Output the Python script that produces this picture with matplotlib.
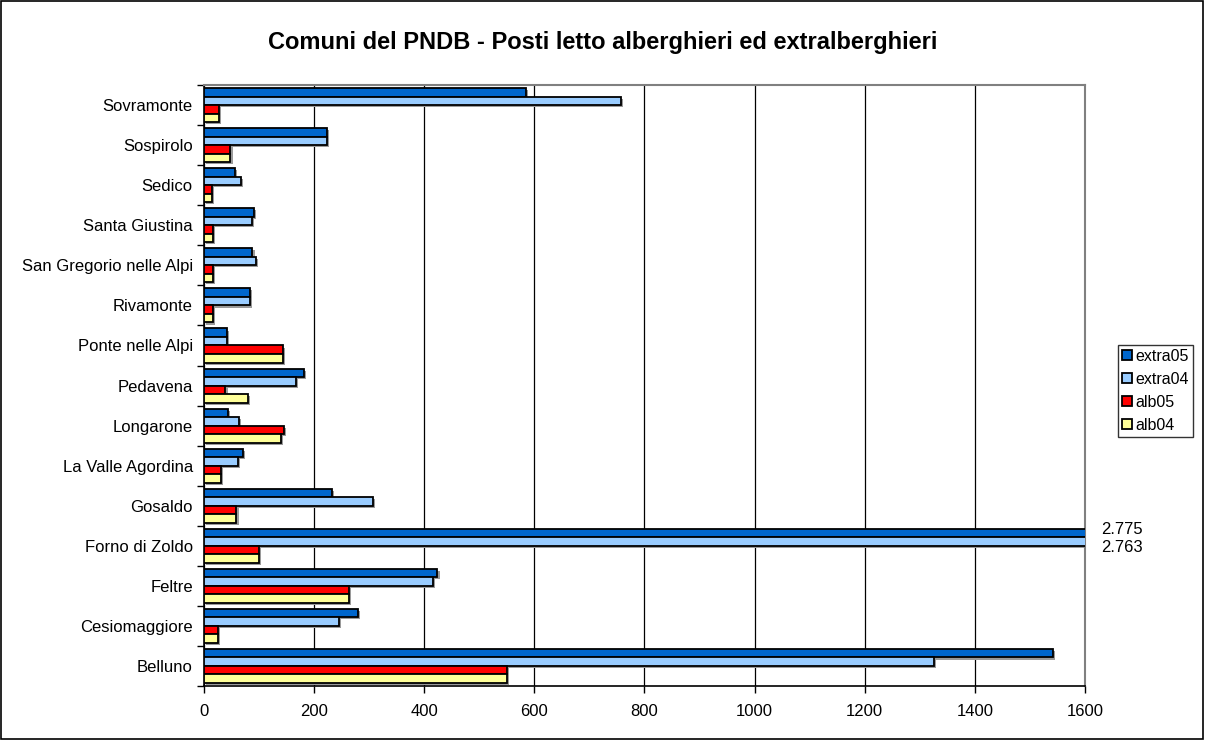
import numpy as np
import matplotlib.pyplot as plt
import matplotlib.patches as ptc
import matplotlib.transforms as mtransforms

plt.rcParams['font.family'] = ['Liberation Sans', 'DejaVu Sans']

# categories listed bottom -> top as drawn
comuni = ['Belluno', 'Cesiomaggiore', 'Feltre', 'Forno di Zoldo', 'Gosaldo',
          'La Valle Agordina', 'Longarone', 'Pedavena', 'Ponte nelle Alpi',
          'Rivamonte', 'San Gregorio nelle Alpi', 'Santa Giustina', 'Sedico',
          'Sospirolo', 'Sovramonte']
extra05 = [1542, 279, 424, 2775, 232, 70, 43, 181, 41, 83, 88, 90, 57, 223, 584]
extra04 = [1326, 245, 415, 2763, 307, 61, 64, 167, 41, 83, 95, 87, 67, 223, 757]
alb05 = [550, 25, 263, 99, 59, 30, 146, 39, 144, 16, 17, 17, 14, 48, 27]
alb04 = [550, 25, 263, 99, 59, 30, 140, 79, 144, 16, 17, 17, 14, 48, 27]
series = [('extra05', extra05, '#0066CC'), ('extra04', extra04, '#99CCFF'),
          ('alb05', alb05, '#FF0000'), ('alb04', alb04, '#FFFF99')]
clipped = ['2.775', '2.763']

fig = plt.figure(figsize=(12.05, 7.4), dpi=100)
ax = fig.add_axes([0.1693, 0.073, 0.7311, 0.812])

y = np.arange(len(comuni))
group = 0.85
h = group / 4
for j, (name, vals, col) in enumerate(series):
    yy = y + group / 2 - (j + 0.5) * h
    # grey drop shadow like the excel original
    ax.barh(yy, vals, height=h, left=0, color='#9a9a9a', edgecolor='none',
            transform=ax.transData + mtransforms.ScaledTranslation(1.5/72, -1.5/72, fig.dpi_scale_trans),
            zorder=2)
    ax.barh(yy, vals, height=h, color=col, edgecolor='black', linewidth=1.3,
            label=name, zorder=3)

ax.set_xlim(0, 1600)
ax.set_ylim(-0.5, len(comuni) - 0.5)
ax.set_xticks(np.arange(0, 1601, 200))
ax.set_yticks(np.arange(-0.5, len(comuni), 1))
ax.set_yticklabels([])
ax.set_yticks(y, minor=True)
ax.set_yticklabels(comuni, minor=True)
ax.tick_params(axis='y', which='minor', length=0, pad=8, labelsize=12)
ax.tick_params(axis='y', which='major', length=5, direction='out', width=1)
ax.tick_params(axis='x', length=5, direction='out', width=1, labelsize=12, pad=8)
ax.grid(axis='x', color='black', linewidth=0.9, zorder=1)
ax.set_axisbelow(True)
ax.spines['top'].set_color('#808080')
ax.spines['right'].set_color('#808080')
ax.spines['top'].set_linewidth(1.5)
ax.spines['right'].set_linewidth(1.5)
ax.spines['left'].set_linewidth(1.2)
ax.spines['bottom'].set_linewidth(1.2)

# values of the bars cut at 1600
trans = mtransforms.blended_transform_factory(ax.transAxes, ax.transData)
iz = comuni.index('Forno di Zoldo')
ax.text(1.018, iz + group / 2 - 0.5 * h + 0.1, clipped[0], transform=trans,
        fontsize=12, va='center', ha='left')
ax.text(1.018, iz + group / 2 - 1.5 * h - 0.15, clipped[1], transform=trans,
        fontsize=12, va='center', ha='left')

fig.suptitle('Comuni del PNDB - Posti letto alberghieri ed extralberghieri',
             x=0.5, y=0.943, va='center', fontsize=17, fontweight='bold')

leg = fig.legend(loc='center left', bbox_to_anchor=(0.928, 0.472), frameon=True,
                 fancybox=False, edgecolor='black', fontsize=11.5,
                 handlelength=0.6, handleheight=0.6, handletextpad=0.2,
                 borderpad=0.25, labelspacing=0.5, borderaxespad=0)
leg.get_frame().set_linewidth(1)

fig.patches.append(ptc.Rectangle((0.001, 0.001), 0.997, 0.997, transform=fig.transFigure,
                                 fill=False, edgecolor='black', linewidth=1.2))

fig.savefig('out.png', dpi=100)
